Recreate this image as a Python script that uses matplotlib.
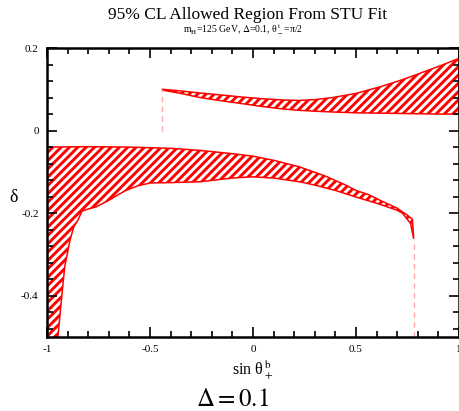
import matplotlib
matplotlib.use("Agg")
import matplotlib.pyplot as plt
from matplotlib.ticker import MultipleLocator, FuncFormatter

plt.rcParams['font.family'] = ['Liberation Serif', 'DejaVu Serif']
plt.rcParams['mathtext.fontset'] = 'stix'
plt.rcParams['hatch.linewidth'] = 2.1
plt.rcParams['hatch.color'] = 'red'

# upper allowed band (delta > 0)
up_x_top = [-0.44, -0.35, -0.258, -0.15, -0.05, 0.05, 0.15, 0.226, 0.3, 0.387, 0.5, 0.617, 0.7, 0.763, 0.85, 0.93, 1.0]
up_y_top = [0.100, 0.096, 0.091, 0.086, 0.081, 0.077, 0.074, 0.073, 0.075, 0.080, 0.090, 0.106, 0.119, 0.130, 0.146, 0.161, 0.175]
up_x_bot = [-0.44, -0.35, -0.258, -0.15, -0.05, 0.05, 0.15, 0.226, 0.3, 0.387, 0.5, 0.65, 0.763, 0.9, 1.0]
up_y_bot = [0.098, 0.090, 0.080, 0.072, 0.065, 0.058, 0.052, 0.049, 0.047, 0.045, 0.043, 0.042, 0.041, 0.040, 0.040]

# lower allowed band (delta < 0)
lo_x_top = [-1.0, -0.8, -0.6, -0.4, -0.258, -0.1, 0.0, 0.1, 0.226, 0.35, 0.45, 0.5, 0.565, 0.63, 0.7, 0.725, 0.75, 0.774, 0.78]
lo_y_top = [-0.040, -0.039, -0.040, -0.043, -0.048, -0.056, -0.062, -0.072, -0.088, -0.110, -0.132, -0.145, -0.156, -0.172, -0.188, -0.197, -0.205, -0.215, -0.262]
lo_x_bot = [0.78, 0.765, 0.725, 0.7, 0.6, 0.5, 0.4, 0.3, 0.226, 0.1, 0.0, -0.1, -0.258, -0.4, -0.5, -0.56, -0.617, -0.66, -0.70,
            -0.735, -0.762, -0.80, -0.83, -0.85, -0.87, -0.888, -0.914, -0.93, -0.947]
lo_y_bot = [-0.262, -0.225, -0.200, -0.193, -0.176, -0.161, -0.145, -0.132, -0.124, -0.115, -0.112, -0.115, -0.124, -0.126, -0.127, -0.134, -0.145, -0.157, -0.169,
            -0.178, -0.185, -0.190, -0.195, -0.217, -0.233, -0.265, -0.330, -0.410, -0.500]

# dashed boundary markers
dash_x = [-0.44, 0.78, 1.0]
dash_y0 = [0.0, -0.5, 0.0]
dash_y1 = [0.100, -0.262, 0.040]

fig = plt.figure(figsize=(4.6, 4.11), dpi=100)
ax = fig.add_axes([47/460, 1-337/411, 412/460, 289/411])

px = up_x_top + up_x_bot[::-1]
py = up_y_top + up_y_bot[::-1]
ax.fill(px, py, facecolor='white', edgecolor='red', hatch='////', linewidth=1.1)

px = lo_x_top + lo_x_bot + [-1.0]
py = lo_y_top + lo_y_bot + [-0.52]
ax.fill(px, py, facecolor='white', edgecolor='red', hatch='////', linewidth=1.1)

for x, a, b in zip(dash_x, dash_y0, dash_y1):
    ax.plot([x, x], [a, b], color='#ffaaaa', ls='--', lw=1, dashes=(4, 3))

ax.set_xlim(-1, 1)
ax.set_ylim(-0.5, 0.2)
ax.xaxis.set_major_locator(MultipleLocator(0.5))
ax.xaxis.set_minor_locator(MultipleLocator(0.1))
ax.yaxis.set_major_locator(MultipleLocator(0.2))
ax.yaxis.set_minor_locator(MultipleLocator(0.04))
fmt = FuncFormatter(lambda v, p: ('%g' % round(v, 3)).replace('\u2212', '-'))
ax.xaxis.set_major_formatter(fmt)
ax.yaxis.set_major_formatter(fmt)
ax.tick_params(which='both', direction='in', top=True, right=True, labelsize=8, width=1.2, pad=6)
ax.tick_params(which='major', length=7)
ax.tick_params(which='minor', length=4)
for s in ax.spines.values():
    s.set_linewidth(1.8)

fig.text(248/460, 1-15/411, '95% CL Allowed Region From STU Fit', ha='center', va='center', fontsize=12.5)
fig.text(243/460, 1-29/411, r'm$_\mathrm{H}$=125 GeV, $\Delta$=0.1, θ$_-^{\,\mathrm{t}}$=π/2',
         ha='center', va='center', fontsize=7)
fig.text(14/460, 1-197/411, 'δ', ha='center', va='center', fontsize=13)
fig.text(253/460, 1-370/411, r'sin θ$_+^{\;\mathrm{b}}$', ha='center', va='center', fontsize=11.5)
fig.text(233/460, 1-400/411, r'$\Delta = 0.1$', ha='center', va='center', fontsize=18)

fig.savefig('out.png', dpi=100)
